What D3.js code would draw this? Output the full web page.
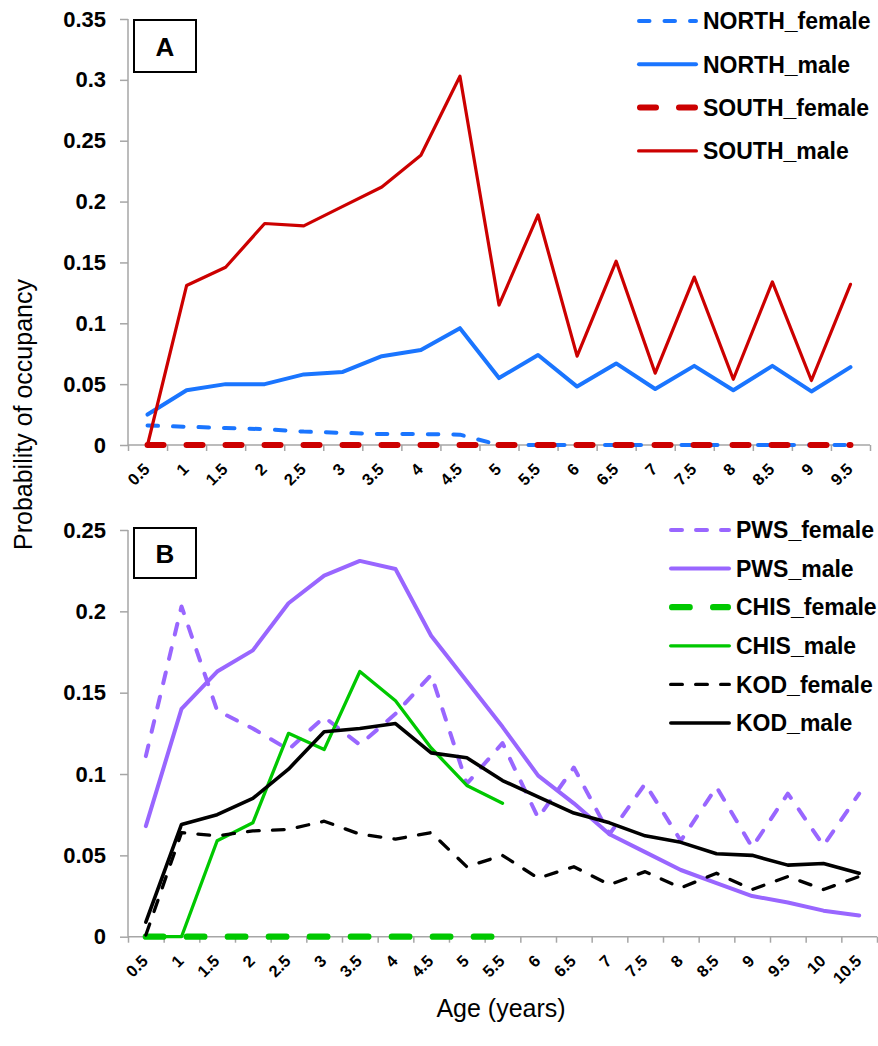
<!DOCTYPE html>
<html>
<head>
<meta charset="utf-8">
<script src="https://cdn.jsdelivr.net/npm/d3@7"></script>
<style>
  body { margin: 0; background: #fff; }
  svg { display: block; font-family: Arial, "Liberation Sans", sans-serif; }
  .axis path, .axis line { stroke: #a6a6a6; stroke-width: 1.5; }
  .ytick text { font-weight: bold; font-size: 22px; fill: #000; }
  .xtick text { font-weight: bold; font-size: 16.5px; fill: #000; }
  .legend text { font-weight: bold; font-size: 23px; fill: #000; }
</style>
</head>
<body>
<div id="chart"></div>
<script>
// panel A: ages and series
const agesA = ['0.5', '1', '1.5', '2', '2.5', '3', '3.5', '4', '4.5', '5', '5.5', '6', '6.5', '7', '7.5', '8', '8.5', '9', '9.5'];
const northFemale = [0.016, 0.015, 0.014, 0.013, 0.011, 0.010, 0.009, 0.009, 0.0085, 0, 0, 0, 0, 0, 0, 0, 0, 0, 0];
const northMale = [0.025, 0.045, 0.050, 0.050, 0.058, 0.060, 0.073, 0.078, 0.096, 0.055, 0.074, 0.048, 0.067, 0.046, 0.065, 0.045, 0.065, 0.044, 0.064];
const southFemale = [0, 0, 0, 0, 0, 0, 0, 0, 0, 0, 0, 0, 0, 0, 0, 0, 0, 0, 0];
const southMale = [0, 0.131, 0.146, 0.182, 0.180, 0.196, 0.212, 0.238, 0.303, 0.115, 0.189, 0.073, 0.151, 0.059, 0.138, 0.054, 0.134, 0.053, 0.132];
const yTicksA = [0, 0.05, 0.1, 0.15, 0.2, 0.25, 0.3, 0.35];

// panel B
const agesB = ['0.5', '1', '1.5', '2', '2.5', '3', '3.5', '4', '4.5', '5', '5.5', '6', '6.5', '7', '7.5', '8', '8.5', '9', '9.5', '10', '10.5'];
const pwsFemale = [0.111, 0.203, 0.139, 0.128, 0.115, 0.135, 0.118, 0.137, 0.161, 0.094, 0.119, 0.073, 0.104, 0.063, 0.094, 0.059, 0.092, 0.055, 0.088, 0.056, 0.088];
const pwsMale = [0.068, 0.140, 0.163, 0.176, 0.205, 0.222, 0.231, 0.226, 0.185, 0.157, 0.129, 0.099, 0.082, 0.063, 0.052, 0.041, 0.033, 0.025, 0.021, 0.016, 0.013];
const chisFemale = [0, 0, 0, 0, 0, 0, 0, 0, 0, 0, 0];
const chisMale = [0, 0, 0.059, 0.070, 0.125, 0.115, 0.163, 0.145, 0.116, 0.093, 0.082];
const kodFemale = [0.001, 0.064, 0.062, 0.065, 0.066, 0.071, 0.063, 0.060, 0.064, 0.043, 0.050, 0.036, 0.043, 0.032, 0.040, 0.030, 0.039, 0.029, 0.037, 0.029, 0.037];
const kodMale = [0.009, 0.069, 0.075, 0.085, 0.103, 0.126, 0.128, 0.131, 0.113, 0.110, 0.096, 0.086, 0.076, 0.070, 0.062, 0.058, 0.051, 0.050, 0.044, 0.045, 0.039];
const yTicksB = [0, 0.05, 0.1, 0.15, 0.2, 0.25];

const BLUE = '#1a75ff';
const RED = '#cc0000';
const PURPLE = '#9966ff';
const GREEN = '#00c800';

const panels = [
  {
    letter: 'A', ages: agesA, ymax: 0.35, yTicks: yTicksA,
    left: 128, right: 870, top: 19, bottom: 445,
    box: [134, 20, 62, 52],
    legendX: 637, legendY: 21, legendStep: 43.3, lineLen: 61,
    series: [
      { name: 'NORTH_female', values: northFemale, color: BLUE, width: 4, dash: '10.5,15' },
      { name: 'NORTH_male', values: northMale, color: BLUE, width: 4, dash: null },
      { name: 'SOUTH_female', values: southFemale, color: RED, width: 6, dash: '16,23' },
      { name: 'SOUTH_male', values: southMale, color: RED, width: 3.2, dash: null }
    ]
  },
  {
    letter: 'B', ages: agesB, ymax: 0.25, yTicks: yTicksB,
    left: 128, right: 877, top: 530, bottom: 936.7,
    box: [134, 528, 62, 50],
    legendX: 669, legendY: 530, legendStep: 38.6, lineLen: 62,
    series: [
      { name: 'PWS_female', values: pwsFemale, color: PURPLE, width: 4, dash: '11,14' },
      { name: 'PWS_male', values: pwsMale, color: PURPLE, width: 4, dash: null },
      { name: 'CHIS_female', values: chisFemale, color: GREEN, width: 6.3, dash: '17.5,23.5' },
      { name: 'CHIS_male', values: chisMale, color: GREEN, width: 3.3, dash: null },
      { name: 'KOD_female', values: kodFemale, color: '#000', width: 3.3, dash: '11.7,13.3' },
      { name: 'KOD_male', values: kodMale, color: '#000', width: 3.6, dash: null }
    ]
  }
];

const svg = d3.select('#chart')
  .append('svg')
  .attr('width', 878)
  .attr('height', 1046);

panels.forEach(p => {
  const x = d3.scaleBand().domain(p.ages).range([p.left, p.right]);
  const xIdx = d3.scaleLinear().domain([0, p.ages.length]).range([p.left, p.right]);
  const y = d3.scaleLinear().domain([0, p.ymax]).range([p.bottom, p.top]);
  const g = svg.append('g');

  // y axis
  g.append('g')
    .attr('class', 'axis ytick')
    .attr('transform', `translate(${p.left},0)`)
    .call(d3.axisLeft(y).tickValues(p.yTicks).tickSize(8).tickPadding(14)
      .tickFormat(d => d === 0 ? '0' : String(+d.toFixed(2))))
    .call(a => a.select('.domain').attr('d', `M0,${p.top}V${p.bottom}`));

  // x axis tick marks at category boundaries
  g.append('g')
    .attr('class', 'axis')
    .attr('transform', `translate(0,${p.bottom})`)
    .call(d3.axisBottom(xIdx).tickValues(d3.range(p.ages.length + 1)).tickSize(6).tickFormat(''))
    .call(a => a.select('.domain').attr('d', `M${p.left},0H${p.right}`));

  // x labels, rotated (axis already puts ticks at band centres)
  g.append('g')
    .attr('class', 'xtick')
    .attr('transform', `translate(0,${p.bottom})`)
    .call(d3.axisBottom(x).tickSize(0).tickPadding(0))
    .call(a => a.select('.domain').remove())
    .selectAll('text')
    .attr('text-anchor', 'end')
    .attr('y', 0)
    .attr('dy', '0.36em')
    .attr('transform', 'translate(-1,21) rotate(-45)');

  const line = d3.line()
    .x((d, i) => x(p.ages[i]) + x.bandwidth() / 2)
    .y(d => y(d));

  p.series.forEach(s => {
    g.append('path')
      .datum(s.values)
      .attr('fill', 'none')
      .attr('stroke', s.color)
      .attr('stroke-width', s.width)
      .attr('stroke-dasharray', s.dash)
      .attr('stroke-linecap', 'round')
      .attr('stroke-linejoin', 'round')
      .attr('d', line);
  });

  // panel letter box
  const [bx, by, bw, bh] = p.box;
  g.append('rect')
    .attr('x', bx).attr('y', by)
    .attr('width', bw).attr('height', bh)
    .attr('fill', '#fff').attr('stroke', '#000').attr('stroke-width', 2);
  g.append('text')
    .attr('x', bx + bw / 2).attr('y', by + bh / 2 + 9.5)
    .attr('text-anchor', 'middle')
    .attr('font-weight', 'bold').attr('font-size', 26)
    .text(p.letter);

  // legend
  const leg = g.append('g').attr('class', 'legend');
  p.series.forEach((s, i) => {
    const ly = p.legendY + i * p.legendStep;
    leg.append('line')
      .attr('x1', p.legendX + s.width / 2).attr('x2', p.legendX + p.lineLen - s.width / 2)
      .attr('y1', ly).attr('y2', ly)
      .attr('stroke', s.color)
      .attr('stroke-width', s.width)
      .attr('stroke-dasharray', s.dash)
      .attr('stroke-linecap', 'round');
    leg.append('text')
      .attr('x', p.legendX + p.lineLen + 5).attr('y', ly)
      .attr('dy', '0.36em')
      .text(s.name);
  });
});

svg.append('text')
  .attr('transform', 'translate(32,550) rotate(-90)')
  .attr('font-size', 25)
  .text('Probability of occupancy');

svg.append('text')
  .attr('x', 501).attr('y', 1017)
  .attr('text-anchor', 'middle')
  .attr('font-size', 25)
  .text('Age (years)');
</script>
</body>
</html>
